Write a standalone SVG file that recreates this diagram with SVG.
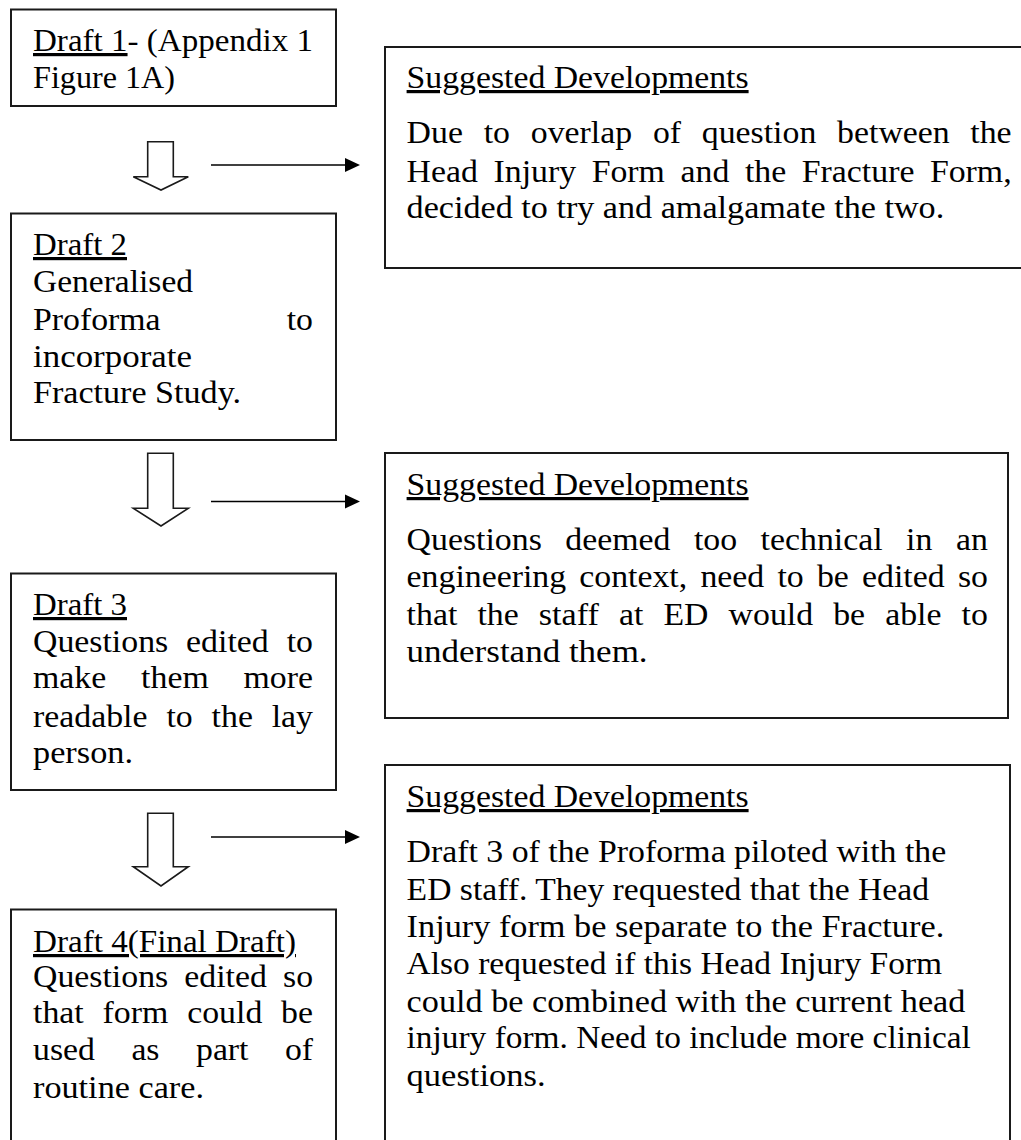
<svg xmlns="http://www.w3.org/2000/svg" width="1021" height="1140" viewBox="0 0 1021 1140">
<style>
.box{fill:#fff;stroke:#1a1a1a;stroke-width:2}
.blk{fill:#fff;stroke:#1a1a1a;stroke-width:1.6;stroke-linejoin:miter}
.ln{stroke:#000;stroke-width:1.6;fill:none}
.hd{fill:#000}
text{font-family:"Liberation Serif","Times New Roman",serif;font-size:32px;fill:#000}
.u{text-decoration:underline;text-decoration-skip-ink:none}
</style>
<rect width="1021" height="1140" fill="#fff"/>

<g id="connectors">
  <polygon class="blk" points="147.7,141.7 173.3,141.7 173.3,176.7 188.3,176.7 161,190 133.3,176.7 147.7,176.7"/>
  <polygon class="blk" points="147.7,453.3 173.3,453.3 173.3,508.3 188.3,508.3 161,526 133.3,508.3 147.7,508.3"/>
  <polygon class="blk" points="147.7,813.3 173.3,813.3 173.3,866.7 188.3,866.7 161,886 133.3,866.7 147.7,866.7"/>
  <line class="ln" x1="211" y1="165" x2="347" y2="165"/>
  <polygon class="hd" points="345,158 360,165 345,172"/>
  <line class="ln" x1="211" y1="501.5" x2="347" y2="501.5"/>
  <polygon class="hd" points="345,494.5 360,501.5 345,508.5"/>
  <line class="ln" x1="211" y1="837" x2="347" y2="837"/>
  <polygon class="hd" points="345,830 360,837 345,844"/>
</g>

<g id="draft1">
  <rect class="box" x="11" y="9.5" width="325" height="96.5"/>
  <text x="33" y="51" textLength="280" lengthAdjust="spacingAndGlyphs"><tspan class="u">Draft 1</tspan>- (Appendix 1</text>
  <text x="33" y="88" textLength="142" lengthAdjust="spacingAndGlyphs">Figure 1A)</text>
</g>

<g id="draft2">
  <rect class="box" x="11" y="213.5" width="325" height="226.5"/>
  <text x="33" y="255" textLength="94" lengthAdjust="spacingAndGlyphs" class="u">Draft 2</text>
  <text x="33" y="292" textLength="160" lengthAdjust="spacingAndGlyphs">Generalised</text>
  <text x="33" y="330" textLength="127.6" lengthAdjust="spacingAndGlyphs">Proforma</text>
  <text x="286.7" y="330" textLength="26.3" lengthAdjust="spacingAndGlyphs">to</text>
  <text x="33" y="367" textLength="159" lengthAdjust="spacingAndGlyphs">incorporate</text>
  <text x="33" y="403" textLength="208" lengthAdjust="spacingAndGlyphs">Fracture Study.</text>
</g>

<g id="draft3">
  <rect class="box" x="11" y="573.5" width="325" height="216.5"/>
  <text x="33" y="615" textLength="94" lengthAdjust="spacingAndGlyphs" class="u">Draft 3</text>
  <text x="33" y="652" textLength="135.2" lengthAdjust="spacingAndGlyphs">Questions</text>
  <text x="186.1" y="652" textLength="82.6" lengthAdjust="spacingAndGlyphs">edited</text>
  <text x="286.7" y="652" textLength="26.3" lengthAdjust="spacingAndGlyphs">to</text>
  <text x="33" y="688" textLength="73.2" lengthAdjust="spacingAndGlyphs">make</text>
  <text x="141.1" y="688" textLength="67.6" lengthAdjust="spacingAndGlyphs">them</text>
  <text x="243.6" y="688" textLength="69.4" lengthAdjust="spacingAndGlyphs">more</text>
  <text x="33" y="727" textLength="114.5" lengthAdjust="spacingAndGlyphs">readable</text>
  <text x="166.4" y="727" textLength="26.3" lengthAdjust="spacingAndGlyphs">to</text>
  <text x="211.6" y="727" textLength="41.3" lengthAdjust="spacingAndGlyphs">the</text>
  <text x="271.7" y="727" textLength="41.3" lengthAdjust="spacingAndGlyphs">lay</text>
  <text x="33" y="763" textLength="100" lengthAdjust="spacingAndGlyphs">person.</text>
</g>

<g id="draft4">
  <rect class="box" x="11" y="909.5" width="325" height="260"/>
  <text x="33" y="952" textLength="263" lengthAdjust="spacingAndGlyphs" class="u">Draft 4(Final Draft)</text>
  <text x="33" y="987" textLength="135.2" lengthAdjust="spacingAndGlyphs">Questions</text>
  <text x="184.3" y="987" textLength="82.6" lengthAdjust="spacingAndGlyphs">edited</text>
  <text x="283" y="987" textLength="30" lengthAdjust="spacingAndGlyphs">so</text>
  <text x="33" y="1023" textLength="50.7" lengthAdjust="spacingAndGlyphs">that</text>
  <text x="102.6" y="1023" textLength="65.7" lengthAdjust="spacingAndGlyphs">form</text>
  <text x="187.2" y="1023" textLength="75.1" lengthAdjust="spacingAndGlyphs">could</text>
  <text x="281.1" y="1023" textLength="31.9" lengthAdjust="spacingAndGlyphs">be</text>
  <text x="33" y="1060" textLength="61.9" lengthAdjust="spacingAndGlyphs">used</text>
  <text x="131.4" y="1060" textLength="28.1" lengthAdjust="spacingAndGlyphs">as</text>
  <text x="196" y="1060" textLength="52.5" lengthAdjust="spacingAndGlyphs">part</text>
  <text x="284.9" y="1060" textLength="28.1" lengthAdjust="spacingAndGlyphs">of</text>
  <text x="33" y="1098" textLength="171" lengthAdjust="spacingAndGlyphs">routine care.</text>
</g>

<g id="dev1">
  <rect class="box" x="385" y="47" width="660" height="221"/>
  <text x="406.6" y="88" textLength="342" lengthAdjust="spacingAndGlyphs" class="u">Suggested Developments</text>
  <text x="406.6" y="143" textLength="56.3" lengthAdjust="spacingAndGlyphs">Due</text>
  <text x="483.7" y="143" textLength="26.3" lengthAdjust="spacingAndGlyphs">to</text>
  <text x="530.8" y="143" textLength="101.3" lengthAdjust="spacingAndGlyphs">overlap</text>
  <text x="652.9" y="143" textLength="28.1" lengthAdjust="spacingAndGlyphs">of</text>
  <text x="701.8" y="143" textLength="114.5" lengthAdjust="spacingAndGlyphs">question</text>
  <text x="837.1" y="143" textLength="112.6" lengthAdjust="spacingAndGlyphs">between</text>
  <text x="970.3" y="143" textLength="41.3" lengthAdjust="spacingAndGlyphs">the</text>
  <text x="406.6" y="182" textLength="71.3" lengthAdjust="spacingAndGlyphs">Head</text>
  <text x="493.5" y="182" textLength="82.6" lengthAdjust="spacingAndGlyphs">Injury</text>
  <text x="591.7" y="182" textLength="73.2" lengthAdjust="spacingAndGlyphs">Form</text>
  <text x="680.5" y="182" textLength="48.8" lengthAdjust="spacingAndGlyphs">and</text>
  <text x="744.9" y="182" textLength="41.3" lengthAdjust="spacingAndGlyphs">the</text>
  <text x="801.8" y="182" textLength="112.6" lengthAdjust="spacingAndGlyphs">Fracture</text>
  <text x="929.9" y="182" textLength="81.7" lengthAdjust="spacingAndGlyphs">Form,</text>
  <text x="406.6" y="218" textLength="537.6" lengthAdjust="spacingAndGlyphs">decided to try and amalgamate the two.</text>
</g>

<g id="dev2">
  <rect class="box" x="385" y="453" width="623" height="265"/>
  <text x="406.6" y="495" textLength="342" lengthAdjust="spacingAndGlyphs" class="u">Suggested Developments</text>
  <text x="406.6" y="550" textLength="135.2" lengthAdjust="spacingAndGlyphs">Questions</text>
  <text x="565.3" y="550" textLength="105.1" lengthAdjust="spacingAndGlyphs">deemed</text>
  <text x="693.9" y="550" textLength="43.2" lengthAdjust="spacingAndGlyphs">too</text>
  <text x="760.6" y="550" textLength="122" lengthAdjust="spacingAndGlyphs">technical</text>
  <text x="906.1" y="550" textLength="26.3" lengthAdjust="spacingAndGlyphs">in</text>
  <text x="956" y="550" textLength="31.9" lengthAdjust="spacingAndGlyphs">an</text>
  <text x="406.6" y="587" textLength="159.5" lengthAdjust="spacingAndGlyphs">engineering</text>
  <text x="579.3" y="587" textLength="107.9" lengthAdjust="spacingAndGlyphs">context,</text>
  <text x="700.4" y="587" textLength="63.8" lengthAdjust="spacingAndGlyphs">need</text>
  <text x="777.4" y="587" textLength="26.3" lengthAdjust="spacingAndGlyphs">to</text>
  <text x="816.9" y="587" textLength="31.9" lengthAdjust="spacingAndGlyphs">be</text>
  <text x="862" y="587" textLength="82.6" lengthAdjust="spacingAndGlyphs">edited</text>
  <text x="957.9" y="587" textLength="30" lengthAdjust="spacingAndGlyphs">so</text>
  <text x="406.6" y="625" textLength="50.7" lengthAdjust="spacingAndGlyphs">that</text>
  <text x="477.4" y="625" textLength="41.3" lengthAdjust="spacingAndGlyphs">the</text>
  <text x="538.8" y="625" textLength="60.1" lengthAdjust="spacingAndGlyphs">staff</text>
  <text x="619" y="625" textLength="24.4" lengthAdjust="spacingAndGlyphs">at</text>
  <text x="663.5" y="625" textLength="45" lengthAdjust="spacingAndGlyphs">ED</text>
  <text x="728.6" y="625" textLength="84.5" lengthAdjust="spacingAndGlyphs">would</text>
  <text x="833.2" y="625" textLength="31.9" lengthAdjust="spacingAndGlyphs">be</text>
  <text x="885.2" y="625" textLength="56.3" lengthAdjust="spacingAndGlyphs">able</text>
  <text x="961.6" y="625" textLength="26.3" lengthAdjust="spacingAndGlyphs">to</text>
  <text x="406.6" y="662" textLength="241" lengthAdjust="spacingAndGlyphs">understand them.</text>
</g>

<g id="dev3">
  <rect class="box" x="385" y="765" width="625" height="400"/>
  <text x="406.6" y="807" textLength="342" lengthAdjust="spacingAndGlyphs" class="u">Suggested Developments</text>
  <text x="406.6" y="862" textLength="539.6" lengthAdjust="spacingAndGlyphs">Draft 3 of the Proforma piloted with the</text>
  <text x="406.6" y="900" textLength="522.4" lengthAdjust="spacingAndGlyphs">ED staff. They requested that the Head</text>
  <text x="406.6" y="937" textLength="537.6" lengthAdjust="spacingAndGlyphs">Injury form be separate to the Fracture.</text>
  <text x="406.6" y="974" textLength="535.5" lengthAdjust="spacingAndGlyphs">Also requested if this Head Injury Form</text>
  <text x="406.6" y="1012" textLength="558.8" lengthAdjust="spacingAndGlyphs">could be combined with the current head</text>
  <text x="406.6" y="1048" textLength="564.2" lengthAdjust="spacingAndGlyphs">injury form. Need to include more clinical</text>
  <text x="406.6" y="1086" textLength="139" lengthAdjust="spacingAndGlyphs">questions.</text>
</g>
</svg>
